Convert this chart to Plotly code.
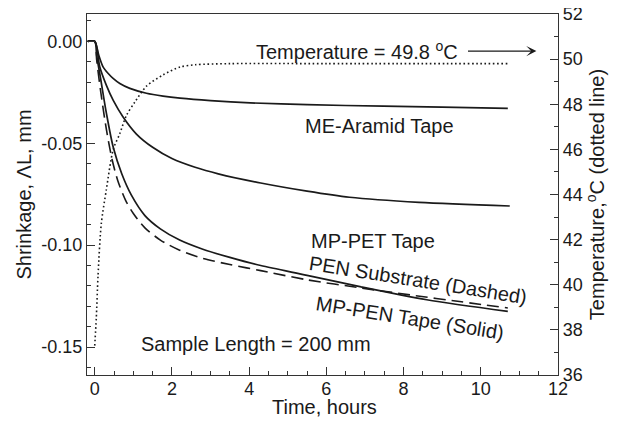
import plotly.graph_objects as go

# ---------------- data ----------------
aramid_t = [-0.18, 0, 0.1, 0.216, 0.35, 0.476, 0.65, 0.91, 1.34, 1.77, 2.21, 3.0, 4.03, 5.5, 7.48, 9.0, 10.7]
aramid_v = [0, 0, -0.0065, -0.0125, -0.0158, -0.0182, -0.0207, -0.0231, -0.0255, -0.0269, -0.0279,
            -0.0291, -0.0302, -0.0311, -0.0318, -0.0323, -0.0329]

pet_t = [-0.18, 0, 0.13, 0.3, 0.48, 0.73, 1.08, 1.5, 2.0, 2.6, 3.2, 4.3, 5.5, 6.6, 8.4, 10.75]
pet_v = [0, 0, -0.0125, -0.0215, -0.029, -0.037, -0.0455, -0.052, -0.0575, -0.0618, -0.065,
         -0.0695, -0.0735, -0.0765, -0.079, -0.0808]

pen_tape_t = [-0.18, 0, 0.05, 0.15, 0.3, 0.48, 0.7, 0.95, 1.3, 1.7, 2.2, 2.8, 3.5, 4.3, 5.5, 6.9, 8.6, 10.7]
pen_tape_v = [0, 0, -0.007, -0.018, -0.035, -0.052, -0.065, -0.0755, -0.0855, -0.092, -0.0975, -0.102,
              -0.106, -0.110, -0.1148, -0.1205, -0.1268, -0.1325]

pen_sub_t = [-0.18, 0, 0.05, 0.15, 0.3, 0.45, 0.6, 0.8, 1.0, 1.3, 1.7, 2.2, 2.8, 3.5, 4.3, 5.5, 6.9,
             8.2, 9.5, 10.7]
pen_sub_v = [0, 0, -0.009, -0.024, -0.043, -0.058, -0.0685, -0.078, -0.0845, -0.0915, -0.0975, -0.1025,
             -0.1065, -0.1095, -0.1125, -0.117, -0.121, -0.1245, -0.1278, -0.1308]

temp_t = [0.0, 0.04, 0.086, 0.17, 0.3, 0.48, 0.65, 0.82, 1.04, 1.34, 1.77, 2.21, 2.6, 3.5, 6.0, 10.7]
temp_v = [37.3, 38.5, 40.4, 42.7, 44.2, 46.0, 46.7, 47.5, 48.1, 48.8, 49.3, 49.65, 49.75, 49.8, 49.8, 49.8]

shrink_ticks = [0.0, -0.05, -0.10, -0.15]
shrink_labels = ["0.00", "-0.05", "-0.10", "-0.15"]

# ---------------- figure ----------------
FONT = "Liberation Sans, Arial, sans-serif"
INK = "#1a1a1a"

fig = go.Figure()
line_solid = dict(color=INK, width=1.7, shape="spline", smoothing=0.8)

fig.add_trace(go.Scatter(x=aramid_t, y=aramid_v, mode="lines", line=line_solid, showlegend=False))
fig.add_trace(go.Scatter(x=pet_t, y=pet_v, mode="lines", line=line_solid, showlegend=False))
fig.add_trace(go.Scatter(x=pen_tape_t, y=pen_tape_v, mode="lines", line=line_solid, showlegend=False))
fig.add_trace(go.Scatter(x=pen_sub_t, y=pen_sub_v, mode="lines",
                         line=dict(color=INK, width=1.6, dash="12px,6px", shape="spline", smoothing=0.8),
                         showlegend=False))
fig.add_trace(go.Scatter(x=temp_t, y=temp_v, mode="lines", yaxis="y2",
                         line=dict(color=INK, width=1.6, dash="1.6px,2.6px", shape="spline", smoothing=0.8),
                         showlegend=False))

ann_font = dict(family=FONT, size=20, color=INK)
annotations = [
    dict(x=6.79, y=-0.0043, text="Temperature = 49.8 <sup>o</sup>C", showarrow=False),
    dict(x=11.44, y=-0.0048, ax=9.63, ay=-0.0048, axref="x", ayref="y", text="",
         showarrow=True, arrowhead=3, arrowsize=1.3, arrowwidth=1.3, arrowcolor=INK),
    dict(x=7.38, y=-0.0416, text="ME-Aramid Tape", showarrow=False),
    dict(x=7.2, y=-0.098, text="MP-PET Tape", showarrow=False),
    dict(x=8.37, y=-0.1171, text="PEN Substrate (Dashed)", showarrow=False, textangle=9),
    dict(x=8.16, y=-0.1358, text="MP-PEN Tape (Solid)", showarrow=False, textangle=9),
    dict(x=4.17, y=-0.1485, text="Sample Length = 200 mm", showarrow=False),
    # x-axis title placed precisely
    dict(x=0.505, y=-0.09, xref="paper", yref="paper", text="Time, hours", showarrow=False,
         xanchor="center", yanchor="middle"),
]
for a in annotations:
    a.setdefault("xref", "x")
    a.setdefault("yref", "y")
    a["font"] = ann_font

axis_common = dict(showline=True, linecolor="#333", linewidth=1.3, ticks="inside",
                   tickcolor="#333", tickwidth=1.2, showgrid=False, zeroline=False, automargin=False,
                   ticklabeloverflow="allow",
                   tickfont=dict(family=FONT, size=18, color=INK))
title_font = dict(family=FONT, size=20, color=INK)

# the page body adds an 8px margin, so the figure is sized 8px smaller than the window
fig.update_layout(
    width=609, height=418,
    margin=dict(l=79, r=59, t=6, b=51),
    paper_bgcolor="white", plot_bgcolor="white",
    font=dict(family=FONT, size=18, color=INK),
    annotations=annotations,
    xaxis=dict(range=[-0.2, 12], tickmode="linear", tick0=0, dtick=2, ticklen=8, mirror=True,
               ticklabelstandoff=-3,
               minor=dict(tickmode="linear", tick0=0, dtick=0.5, ticklen=4, ticks="inside", tickcolor="#333"),
               **axis_common),
    yaxis=dict(range=[-0.1637, 0.0134], tickmode="array", tickvals=shrink_ticks, ticktext=shrink_labels,
               ticklen=8,
               minor=dict(tickmode="linear", tick0=0, dtick=0.01, ticklen=4, ticks="inside", tickcolor="#333"),
               title=dict(text="Shrinkage, ΛL, mm", standoff=4, font=title_font),
               **axis_common),
    yaxis2=dict(range=[36, 52], overlaying="y", side="right", tickmode="linear", tick0=36, dtick=2,
                ticklen=8,
                minor=dict(tickmode="linear", tick0=36, dtick=1, ticklen=4, ticks="inside", tickcolor="#333"),
                title=dict(text="Temperature,<sup>o</sup>C (dotted line)", standoff=4, font=title_font),
                **axis_common),
)

fig.write_html("out.html")
